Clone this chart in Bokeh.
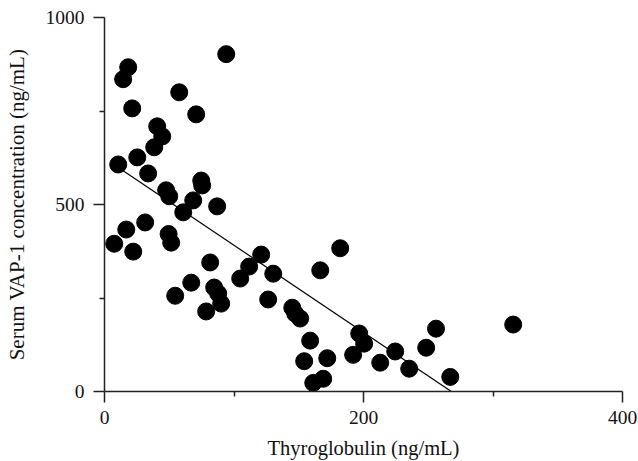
from bokeh.plotting import figure
from bokeh.models import FixedTicker, Range1d, ColumnDataSource
from bokeh.embed import file_html
from bokeh.resources import INLINE

# Thyroglobulin (ng/mL)
tg = [7.5, 10.6, 14.4, 18.3, 16.8, 21.4, 22.2, 25.3, 33.7, 31.4,
      38.4, 40.7, 44.6, 47.6, 50.0, 49.5, 51.5, 54.6, 57.7, 60.8,
      67.0, 68.5, 70.8, 74.7, 75.4, 78.5, 81.6, 84.7, 87.0, 87.8,
      90.1, 94.0, 104.8, 111.7, 121.0, 130.3, 126.4, 145.0, 147.3, 151.1,
      166.6, 182.0, 158.8, 154.2, 172.0, 161.2, 168.9, 196.7, 200.5, 192.0,
      212.9, 224.5, 235.3, 248.4, 256.0, 267.0, 315.6]
# Serum VAP-1 concentration (ng/mL)
vap1 = [395, 607, 835, 867, 433, 757, 374, 626, 583, 452,
        653, 709, 682, 538, 522, 421, 398, 256, 800, 479,
        291, 511, 741, 564, 551, 214, 345, 278, 495, 262,
        235, 902, 302, 334, 366, 315, 246, 224, 208, 195,
        324, 383, 136, 81, 89, 23, 34, 155, 128, 98,
        77, 107, 61, 117, 168, 39, 179]

# regression line
fit_intercept = 624.0
fit_slope = -2.33

x_ticks = [0, 200, 400]
x_minor = [100, 300]
y_ticks = [0, 500, 1000]
y_minor = [250, 750]

FONT = "Liberation Serif"
AX = "#222222"

p = figure(width=638, height=461, output_backend="svg", toolbar_location=None,
           x_range=Range1d(0, 400), y_range=Range1d(0, 1000),
           min_border_left=104, min_border_right=16, min_border_top=17, min_border_bottom=70)
p.outline_line_color = None
p.grid.grid_line_color = None

x_end = -fit_intercept / fit_slope
fx = [min(tg), x_end]
fy = [fit_intercept + fit_slope * v for v in fx]
p.line(fx, fy, line_color="black", line_width=1.2)

src = ColumnDataSource(dict(x=tg, y=vap1))
p.scatter("x", "y", source=src, size=17, fill_color="black", line_color="black")

for ax, ticks, minor in ((p.xaxis[0], x_ticks, x_minor), (p.yaxis[0], y_ticks, y_minor)):
    ax.ticker = FixedTicker(ticks=ticks, minor_ticks=minor)
    ax.axis_line_color = AX
    ax.axis_line_width = 1.5
    ax.major_tick_line_color = AX
    ax.major_tick_line_width = 1.5
    ax.minor_tick_line_color = AX
    ax.minor_tick_line_width = 1.5
    ax.major_tick_in = 0
    ax.major_tick_out = 11
    ax.minor_tick_in = 0
    ax.minor_tick_out = 5
    ax.major_label_text_font = FONT
    ax.major_label_text_font_size = "19.5px"
    ax.major_label_text_color = "#111111"
    ax.axis_label_text_font = FONT
    ax.axis_label_text_font_style = "normal"
    ax.axis_label_text_color = "#111111"

p.xaxis.axis_label_text_font_size = "20.5px"
p.yaxis.axis_label_text_font_size = "21px"
p.xaxis.axis_label = "Thyroglobulin (ng/mL)"
p.yaxis.axis_label = "Serum VAP-1 concentration (ng/mL)"
p.xaxis.major_label_standoff = 8
p.xaxis.axis_label_standoff = 10
p.yaxis.major_label_standoff = 9
p.yaxis.axis_label_standoff = 14

open("out.html", "w").write(file_html(p, INLINE))
